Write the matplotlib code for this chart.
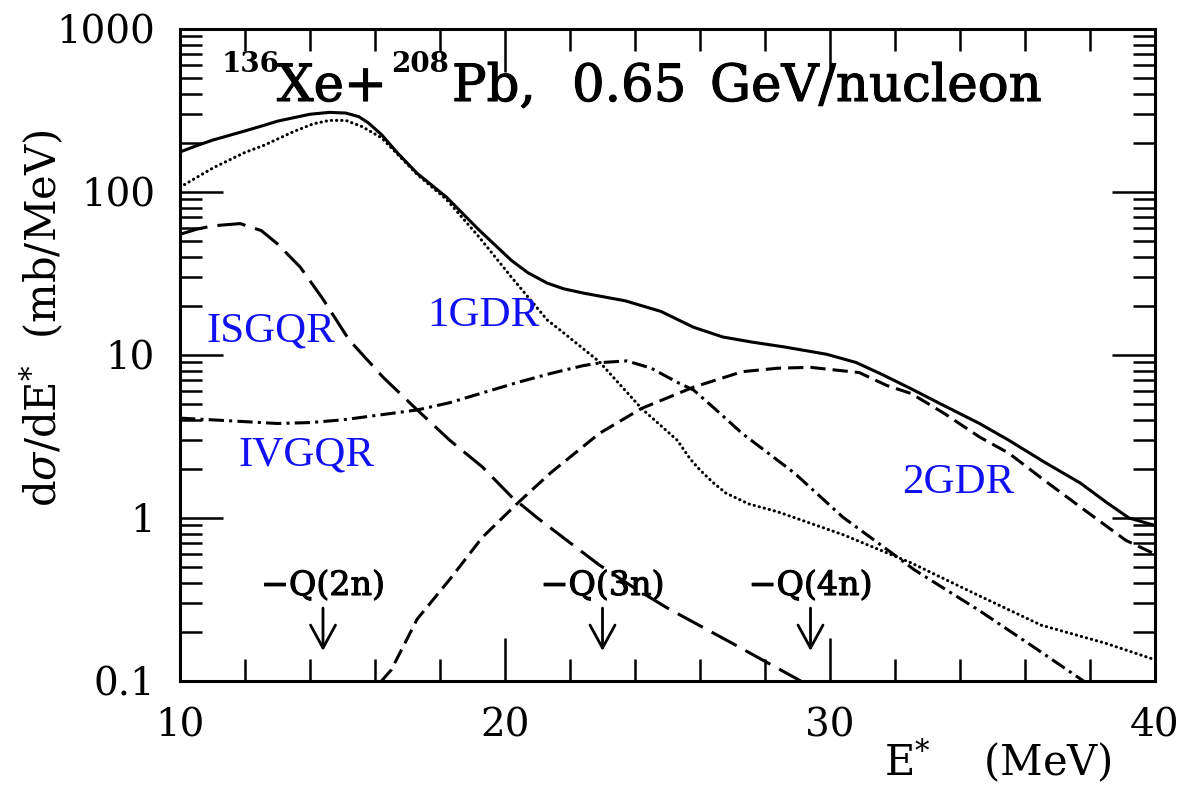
import matplotlib.pyplot as plt
import matplotlib.patheffects as pe
from matplotlib.ticker import FixedLocator, NullFormatter
import numpy as np

plt.rcParams['mathtext.fontset'] = 'dejavuserif'

# excitation energy grids (MeV) and dsigma/dE* (mb/MeV) for each component
e_total = [10, 10.5, 11, 12, 12.6, 13, 14, 14.6, 15.1, 15.5, 15.8, 16.2, 16.7, 17.3,
           18.2, 19.2, 20.2, 20.7, 21.3, 21.8, 22.4, 23.7, 24.8, 25.8, 26.7, 27.6,
           28.6, 29.9, 30.8, 31.6, 32.5, 33.5, 34.6, 35.5, 36.6, 37.7, 38.5, 39.2, 40]
s_total = [176, 192, 208, 237, 257, 272, 300, 308, 305, 290, 265, 225, 173, 130,
           93, 58.5, 38, 32, 27.6, 25.5, 24, 21.5, 18.5, 14.8, 12.9, 12.0,
           11.2, 10.1, 9.0, 7.6, 6.2, 4.9, 3.8, 3.0, 2.2, 1.64, 1.25, 1.0, 0.9]

e_1gdr = [10, 11, 12, 12.6, 13.5, 14.1, 14.6, 15.1, 15.6, 16.2, 16.7, 17.3, 18.2,
          19.2, 20.2, 21.3, 21.7, 22.9, 24.2, 25.3, 25.7, 26, 26.4, 26.8, 27.5, 28.4,
          30.4, 32.5, 34.5, 36.5, 38.5, 40]
s_1gdr = [107, 140, 175, 194, 235, 262, 275, 275, 252, 215, 170, 128, 90,
          53, 30, 16.4, 14.2, 9.1, 4.7, 3.0, 2.3, 1.97, 1.65, 1.42, 1.22, 1.09,
          0.79, 0.53, 0.34, 0.22, 0.17, 0.135]

e_isgqr = [10, 10.5, 11, 11.85, 12.5, 13.0, 13.7, 14.4, 15.2, 16.25, 17.3, 18.3,
           19.3, 20.2, 21.0, 21.9, 22.9, 24, 25, 27, 29.1]
s_isgqr = [55, 59, 62, 64, 58, 48, 34.6, 22, 12.4, 7.3, 4.6, 3.0,
           2.06, 1.35, 1.0, 0.73, 0.515, 0.37, 0.28, 0.17, 0.1]

e_ivgqr = [10, 11, 12, 13, 14, 15, 16, 17.3, 18.3, 19.3, 20.4, 21.4, 22.4, 23.0,
           23.75, 24.5, 25.3, 25.8, 26.5, 27.3, 28.9, 30.4, 31.9, 32.6, 34.6, 36.2,
           37.8]
s_ivgqr = [4.1, 4.0, 3.9, 3.8, 3.85, 4.0, 4.25, 4.6, 5.1, 5.85, 6.8, 7.7, 8.6, 9.0,
           9.2, 8.3, 6.8, 6.1, 4.6, 3.3, 1.89, 1.01, 0.61, 0.48, 0.27, 0.165, 0.1]

e_2gdr = [16.2, 16.5, 17.3, 18.3, 19.3, 20.4, 21.4, 22.9, 24.2, 25.8, 27.3, 28.4,
          29.4, 30.9, 31.75, 32.5, 33.5, 34.6, 35.5, 36.6, 37.7, 39.1, 40]
s_2gdr = [0.1, 0.117, 0.24, 0.42, 0.76, 1.24, 1.89, 3.3, 4.7, 6.35, 7.9, 8.3,
          8.4, 7.8, 6.5, 5.8, 4.4, 3.14, 2.5, 1.7, 1.17, 0.73, 0.6]

# neutron emission thresholds
q_labels = ['\u2212Q(2n)', '\u2212Q(3n)', '\u2212Q(4n)']
q_energies = [14.4, 23.0, 29.4]

y_ticks = [0.1, 1, 10, 100, 1000]
y_ticklabels = ['0.1', '1', '10', '100', '1000']
x_ticks = [10, 20, 30, 40]

W, H = 1183, 785
fig = plt.figure(figsize=(W / 100, H / 100), dpi=100)
ax = fig.add_axes([180 / W, 1 - 681 / H, 975 / W, 652 / H])

lw = 2.2
ax.plot(e_total, s_total, color='black', lw=lw, solid_joinstyle='round')
ax.plot(e_1gdr, s_1gdr, color='black', lw=lw, linestyle=(0, (0.1, 1.6)),
        dash_capstyle='round')
ax.plot(e_isgqr, s_isgqr, color='black', lw=lw, linestyle=(0, (9.3, 3.3)))
ax.plot(e_ivgqr, s_ivgqr, color='black', lw=lw, linestyle=(0, (5, 1.7, 1.0, 1.7)))
ax.plot(e_2gdr, s_2gdr, color='black', lw=lw, linestyle=(0, (5, 2.3)))

ax.set_xlim(10, 40)
ax.set_yscale('log')
ax.set_ylim(0.1, 1000)

ax.xaxis.set_major_locator(FixedLocator(x_ticks))
ax.xaxis.set_minor_locator(FixedLocator(np.arange(10, 41, 2)))
ax.set_yticks(y_ticks, labels=y_ticklabels)
minor_y = [m * 10.0 ** d for d in range(-1, 3) for m in range(2, 10)]
ax.yaxis.set_minor_locator(FixedLocator(minor_y))
ax.yaxis.set_minor_formatter(NullFormatter())

tick_font = dict(family='DejaVu Serif', size=28)
ax.set_xticklabels([str(v) for v in x_ticks], fontdict=tick_font)
ax.set_yticklabels(y_ticklabels, fontdict=tick_font)
ax.tick_params(which='both', direction='in', top=True, right=True, width=1.8)
ax.tick_params(which='major', length=31)
ax.tick_params(which='minor', length=16)
ax.tick_params(axis='x', pad=19)
ax.tick_params(axis='y', pad=18)
for s in ax.spines.values():
    s.set_linewidth(2.2)

# title pieces, spaced out word by word
serif = 'DejaVu Serif'
thick = [pe.withStroke(linewidth=0.8, foreground='black')]
fig.text(222 / W, 1 - 72 / H, '136', family=serif, weight='bold', size=20,
         va='baseline')
fig.text(277 / W, 1 - 101 / H, 'Xe+', family=serif, size=37, va='baseline',
         path_effects=thick)
fig.text(391 / W, 1 - 72 / H, '208', family=serif, weight='bold', size=20,
         va='baseline')
for word, x in [('Pb,', 452), ('0.65', 572), ('GeV/nucleon', 710)]:
    fig.text(x / W, 1 - 101 / H, word, family=serif, size=37, va='baseline',
             path_effects=thick)

# component labels
blue = dict(family='Liberation Serif', size=31, color='#1010f0', va='baseline')
fig.text(207 / W, 1 - 342 / H, 'ISGQR', **blue)
fig.text(427 / W, 1 - 326 / H, '1GDR', **blue)
fig.text(239 / W, 1 - 465 / H, 'IVGQR', **blue)
fig.text(902 / W, 1 - 493 / H, '2GDR', **blue)

# threshold arrows
for lab, e in zip(q_labels, q_energies):
    ax.text(e, 0.337, lab, family=serif, size=24, ha='center', va='baseline',
            path_effects=[pe.withStroke(linewidth=0.8, foreground='black')])
    ax.annotate('', xy=(e, 0.153), xytext=(e, 0.28),
                arrowprops=dict(arrowstyle='->,head_length=0.55,head_width=0.3',
                                lw=2, color='black', mutation_scale=30,
                                shrinkA=0, shrinkB=0))

# axis titles
fig.text(42 / W, 1 - 318 / H, r'd$\sigma$/dE$^{*}$  (mb/MeV)', family=serif,
         size=30, rotation=90, ha='center', va='center')
fig.text(884 / W, 1 - 776 / H, r'E$^{*}$    (MeV)', family=serif, size=30,
         va='baseline')

fig.savefig('out.png', dpi=100)
